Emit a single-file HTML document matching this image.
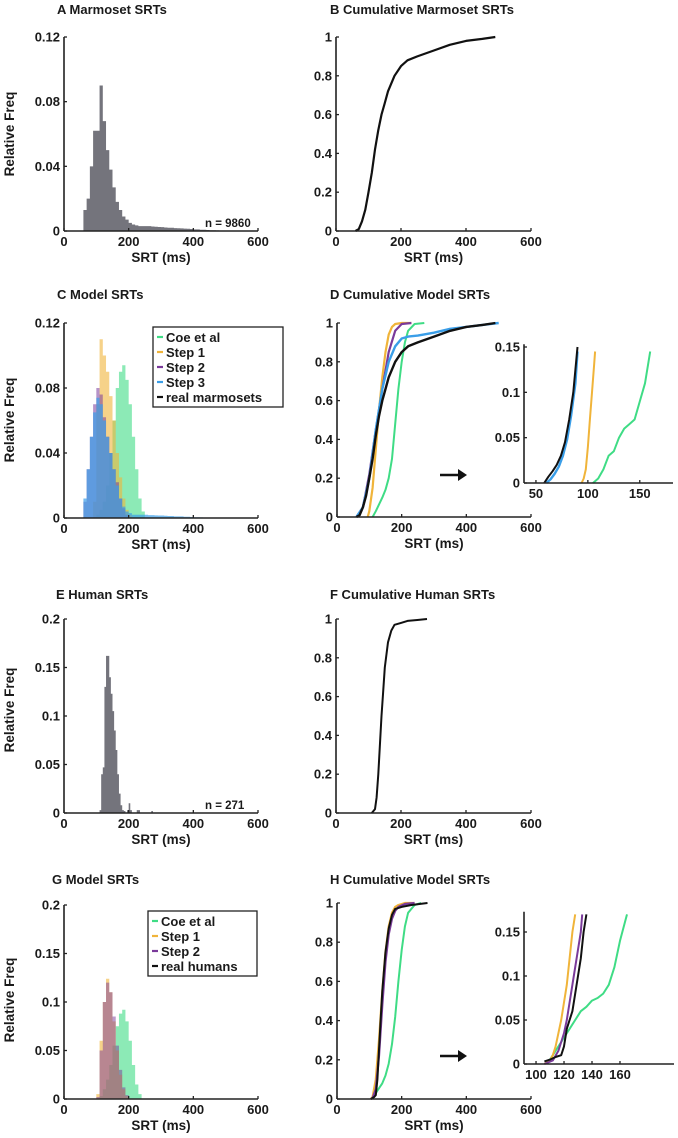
<!DOCTYPE html>
<html><head><meta charset="utf-8"><style>
html,body{margin:0;padding:0;background:#fff;}
svg{display:block;font-family:"Liberation Sans",Arial,sans-serif;font-weight:bold;}
</style></head><body>
<svg id="fig" width="678" height="1138" viewBox="0 0 678 1138" xmlns="http://www.w3.org/2000/svg"></svg>
<script>
// ---- data ----
const marmBinStart = 60;
const marmHist = [0.013,0.02,0.04,0.062,0.062,0.09,0.068,0.05,0.038,0.027,0.018,0.013,0.009,0.007,0.005,0.004,0.0035,0.003,0.003,0.003,0.003,0.0028,0.0026,0.0025,0.0024,0.0022,0.002,0.002,0.0018,0.0017,0.0016,0.0015,0.0014,0.0012,0.001,0.001,0.0008,0.0008,0.0006,0.0005,0.0005,0.0004,0.0003];
const marmCumX = [60,70,80,90,100,110,120,130,140,150,160,180,200,220,250,300,350,400,450,490];
const marmCumY = [0,0.01,0.05,0.11,0.2,0.3,0.42,0.52,0.6,0.66,0.72,0.8,0.85,0.88,0.9,0.93,0.96,0.98,0.99,1];

const step3Start = 60;
const step3Hist = [0.012,0.03,0.05,0.065,0.074,0.07,0.06,0.05,0.04,0.03,0.02,0.012,0.007,0.004,0.003,0.002,0.002,0.002,0.002,0.002,0.0018,0.0018,0.0016,0.0015,0.0015,0.0014,0.0012,0.0012,0.001,0.001,0.001,0.0008,0.0008,0.0006,0.0005,0.0005,0.0004,0.0003,0.0003,0.0002,0.0002,0.0002];
const step2Start = 60;
const step2Hist = [0.01,0.03,0.05,0.07,0.08,0.076,0.062,0.05,0.04,0.03,0.022,0.012,0.006,0.002];
const step1Start = 90;
const step1Hist = [0.01,0.07,0.11,0.1,0.09,0.075,0.06,0.04,0.025,0.012,0.005,0.002];
const coeStart = 100;
const coeHist = [0.002,0.005,0.01,0.02,0.04,0.06,0.08,0.09,0.094,0.085,0.07,0.05,0.03,0.012,0.004];

const dCumX_blue = [60,80,100,120,140,160,180,200,220,250,300,350,400,450,500];
const dCumY_blue = [0,0.05,0.2,0.45,0.66,0.8,0.88,0.92,0.93,0.935,0.95,0.97,0.98,0.99,1];
const dCumX_purple = [60,80,100,120,140,160,180,200,230];
const dCumY_purple = [0,0.05,0.22,0.45,0.66,0.85,0.96,0.995,1];
const dCumX_orange = [95,100,110,120,130,140,150,160,170,180,200,230];
const dCumY_orange = [0,0.03,0.15,0.35,0.55,0.72,0.85,0.94,0.98,0.995,1,1];
const dCumX_green = [110,120,140,150,160,170,180,190,200,210,220,240,270];
const dCumY_green = [0,0.03,0.1,0.14,0.2,0.3,0.48,0.66,0.8,0.9,0.96,0.995,1];

const insDX_black = [58,62,66,70,74,78,82,86,90];
const insDY_black = [0,0.007,0.013,0.02,0.03,0.045,0.07,0.1,0.15];
const insDX_blue = [60,64,68,72,76,80,84,88,90];
const insDY_blue = [0,0.004,0.01,0.018,0.03,0.048,0.075,0.11,0.145];
const insDX_orange = [94,96,98,100,102,104,106,107];
const insDY_orange = [0,0.005,0.015,0.04,0.07,0.1,0.13,0.145];
const insDX_green = [105,110,115,120,125,130,135,140,145,150,155,160];
const insDY_green = [0,0.005,0.015,0.03,0.035,0.05,0.06,0.065,0.07,0.09,0.11,0.145];

const humStart = 110;
const humHist = [0.003,0.04,0.047,0.13,0.162,0.162,0.14,0.123,0.105,0.085,0.065,0.04,0.02,0.008,0.003,0.002,0,0.003,0.01,0.003,0,0,0,0.003,0.003,0,0,0,0,0,0,0,0.002];
const humCumX = [110,120,125,130,135,140,145,150,160,170,180,200,220,250,280];
const humCumY = [0,0.02,0.08,0.2,0.35,0.5,0.62,0.75,0.88,0.94,0.97,0.98,0.99,0.995,1];

const gCoeStart = 110;
const gCoeHist = [0.003,0.01,0.02,0.035,0.055,0.075,0.088,0.092,0.08,0.06,0.035,0.015,0.005];
const gStep1Start = 100;
const gStep1Hist = [0.005,0.06,0.1,0.124,0.11,0.08,0.05,0.025,0.01,0.003];
const gStep2Start = 100;
const gStep2Hist = [0.002,0.05,0.1,0.12,0.11,0.085,0.055,0.03,0.012,0.004];

const hCumX_orange = [105,110,120,130,140,150,160,170,180,190,210,240];
const hCumY_orange = [0,0.01,0.1,0.3,0.55,0.75,0.88,0.95,0.98,0.99,1,1];
const hCumX_purple = [105,110,120,130,140,150,160,170,180,190,210,240];
const hCumY_purple = [0,0.005,0.05,0.22,0.48,0.7,0.84,0.92,0.96,0.98,0.995,1];
const hCumX_black = [105,115,120,125,130,135,140,150,160,170,180,200,230,280];
const hCumY_black = [0,0.01,0.02,0.1,0.25,0.4,0.55,0.75,0.87,0.94,0.97,0.98,0.99,1];
const hCumX_green = [108,120,140,150,160,170,180,190,200,210,220,240,260];
const hCumY_green = [0,0.03,0.08,0.12,0.18,0.28,0.42,0.6,0.76,0.88,0.95,0.99,1];

const insHX_orange = [106,110,112,114,116,118,120,122,124,126,128];
const insHY_orange = [0,0.004,0.01,0.02,0.035,0.05,0.07,0.09,0.12,0.15,0.17];
const insHX_purple = [106,112,116,118,120,122,124,126,128,130,132,133];
const insHY_purple = [0,0.004,0.015,0.025,0.035,0.05,0.07,0.09,0.11,0.13,0.15,0.17];
const insHX_black = [106,110,114,118,120,122,124,126,128,130,132,134,136];
const insHY_black = [0.003,0.005,0.008,0.01,0.02,0.04,0.05,0.06,0.08,0.1,0.12,0.15,0.17];
const insHX_green = [108,112,116,120,124,128,132,136,140,144,148,152,156,160,165];
const insHY_green = [0,0.01,0.02,0.03,0.04,0.05,0.06,0.065,0.072,0.075,0.08,0.09,0.11,0.14,0.17];

// ---- drawing ----
const NS = "http://www.w3.org/2000/svg";
const svg = document.getElementById('fig');
function el(tag, attrs, parent){ const e=document.createElementNS(NS,tag); for(const k in attrs) e.setAttribute(k,attrs[k]); (parent||svg).appendChild(e); return e; }
function txt(s, x, y, size, anchor, parent){ const t=el('text',{x:x,y:y,'font-size':size,'text-anchor':anchor||'start',fill:'#1a1a1a'},parent); t.textContent=s; return t; }

function axes(name, px0, px1, py0, py1, xmin, xmax, ymin, ymax, xticks, yticks, ytop, showX){
  const g = el('g',{});
  
  
  const sx = v => px0 + (v - xmin) / (xmax - xmin) * (px1 - px0);
  const sy = v => py0 - (v - ymin) / (ymax - ymin) * (py0 - py1);
  const top = ytop !== undefined ? sy(ytop) : py1;
  const marks = el('g',{},g);
  g.marks = marks;
  el('line',{x1:px0,y1:py0,x2:px1,y2:py0,stroke:'#222','stroke-width':1.6},g);
  el('line',{x1:px0,y1:py0,x2:px0,y2:top,stroke:'#222','stroke-width':1.6},g);
  xticks.forEach(v=>{ const x=sx(v); el('line',{x1:x,y1:py0,x2:x,y2:py0-3,stroke:'#222','stroke-width':1.3},g); txt(String(v),x,py0+15,13,'middle',g); });
  yticks.forEach(v=>{ const y=sy(v); el('line',{x1:px0,y1:y,x2:px0+3,y2:y,stroke:'#222','stroke-width':1.3},g); txt(String(v),px0-4,y+4.5,13,'end',g); });
  if(showX!==false) txt('SRT (ms)',(px0+px1)/2,py0+31,13.5,'middle',g);
  return {g, marks, sx, sy};
}
function hist(ax, start, width, vals, fill, op, name){
  const y0 = ax.sy(0);
  let d = 'M'+ax.sx(start).toFixed(2)+','+y0;
  vals.forEach((v,i)=>{ const x0=ax.sx(start+i*width), x1=ax.sx(start+(i+1)*width), y=ax.sy(v);
    d += ' L'+x0.toFixed(2)+','+y.toFixed(2)+' L'+x1.toFixed(2)+','+y.toFixed(2); });
  d += ' L'+ax.sx(start+vals.length*width).toFixed(2)+','+y0+' Z';
  const p = el('path',{d:d,fill:fill,'fill-opacity':op,stroke:'none'},ax.marks);
  
  
}
function curve(ax, xs, ys, color, w, name){
  const d = xs.map((x,i)=>(i?'L':'M')+ax.sx(x).toFixed(1)+','+ax.sy(ys[i]).toFixed(1)).join(' ');
  const p = el('path',{d:d,fill:'none',stroke:color,'stroke-width':w,'stroke-linejoin':'round'},ax.marks);
  
  
}
function title(s, x, y, name){ const t=txt(s,x,y,13,'start');   }
function ylabel(cx, cy, name){ const t=txt('Relative Freq',0,0,13.5,'middle'); t.setAttribute('transform','translate('+cx+','+cy+') rotate(-90)');   }
function legend(x,y,w,h,items,name){
  const g=el('g',{});  
  el('rect',{x:x,y:y,width:w,height:h,fill:'#fff',stroke:'#222','stroke-width':1.3},g);
  items.forEach((it,i)=>{ const yy=y+10+i*15; el('line',{x1:x+4,y1:yy,x2:x+10,y2:yy,stroke:it[1],'stroke-width':2.2},g); txt(it[0],x+13,yy+5,13,'start',g); });
}
function arrow(x,y,name){
  const g=el('g',{});  
  el('line',{x1:x,y1:y,x2:x+19,y2:y,stroke:'#111','stroke-width':2.5},g);
  el('polygon',{points:(x+18)+','+(y-6)+' '+(x+27)+','+y+' '+(x+18)+','+(y+6),fill:'#111'},g);
}

const GREEN='#3fdc85', ORANGE='#f0b43a', PURPLE='#7a3a9a', BLUE='#3a9ee8', GRAY='#74747c';

// A
title('A   Marmoset  SRTs',57,14,'title-a');
ylabel(14,134,'y-axis-title-a');
let a = axes('panel-a',64,258,231,37,0,600,0,0.12,[0,200,400,600],[0,0.04,0.08,0.12]);
hist(a,marmBinStart,10,marmHist,GRAY,1,'marmoset-histogram');
txt('n = 9860',205,227,11.5,'start',a.g);

// B
title('B   Cumulative Marmoset SRTs',330,14,'title-b');
let b = axes('panel-b',336,531,231,37,0,600,0,1,[0,200,400,600],[0,0.2,0.4,0.6,0.8,1]);
curve(b,marmCumX,marmCumY,'#111',2.2,'marmoset-cumulative');

// C
title('C  Model SRTs',57,299,'title-c');
ylabel(14,420,'y-axis-title-c');
let c = axes('panel-c',64,258,518,323,0,600,0,0.12,[0,200,400,600],[0,0.04,0.08,0.12]);
hist(c,coeStart,10,coeHist,GREEN,0.6,'coe-histogram');
hist(c,step1Start,10,step1Hist,ORANGE,0.6,'step1-histogram');
hist(c,step2Start,10,step2Hist,PURPLE,0.55,'step2-histogram');
hist(c,step3Start,10,step3Hist,BLUE,0.7,'step3-histogram');
legend(153,327,130,80,[['Coe et al',GREEN],['Step 1',ORANGE],['Step 2',PURPLE],['Step 3',BLUE],['real marmosets','#111']],'legend-c');

// D
title('D   Cumulative Model SRTs',330,299,'title-d');
let d = axes('panel-d',337,531,517,323,0,600,0,1,[0,200,400,600],[0,0.2,0.4,0.6,0.8,1]);
curve(d,dCumX_green,dCumY_green,GREEN,2,'coe-cumulative');
curve(d,dCumX_orange,dCumY_orange,ORANGE,2.2,'step1-cumulative');
curve(d,dCumX_purple,dCumY_purple,PURPLE,2.2,'step2-cumulative');
curve(d,dCumX_blue,dCumY_blue,BLUE,2.4,'step3-cumulative');
curve(d,marmCumX,marmCumY,'#111',2.4,'marmoset-cumulative-d');
arrow(440,475,'zoom-arrow-d');
let di = axes('inset-d',524,673,483,347,38.5,182,0,0.15,[50,100,150],[0,0.05,0.1,0.15],0.153,false);
curve(di,insDX_green,insDY_green,GREEN,2,'inset-coe');
curve(di,insDX_orange,insDY_orange,ORANGE,2,'inset-step1');
curve(di,insDX_blue,insDY_blue,BLUE,2.4,'inset-step3');
curve(di,insDX_black,insDY_black,'#111',2,'inset-marmoset');

// E
title('E  Human  SRTs',56,599,'title-e');
ylabel(14,710,'y-axis-title-e');
let e = axes('panel-e',64,258,813,619,0,600,0,0.2,[0,200,400,600],[0,0.05,0.1,0.15,0.2]);
hist(e,humStart,5,humHist,GRAY,1,'human-histogram');
txt('n = 271',205,809,11.5,'start',e.g);

// F
title('F   Cumulative Human SRTs',330,599,'title-f');
let f = axes('panel-f',336,531,813,619,0,600,0,1,[0,200,400,600],[0,0.2,0.4,0.6,0.8,1]);
curve(f,humCumX,humCumY,'#111',2,'human-cumulative');

// G
title('G  Model SRTs',52,884,'title-g');
ylabel(14,1000,'y-axis-title-g');
let gg = axes('panel-g',64,258,1099,905,0,600,0,0.2,[0,200,400,600],[0,0.05,0.1,0.15,0.2]);
hist(gg,gCoeStart,10,gCoeHist,GREEN,0.6,'coe-histogram-g');
hist(gg,gStep1Start,10,gStep1Hist,ORANGE,0.6,'step1-histogram-g');
hist(gg,gStep2Start,10,gStep2Hist,PURPLE,0.5,'step2-histogram-g');
legend(148,911,109,65,[['Coe et al',GREEN],['Step 1',ORANGE],['Step 2',PURPLE],['real humans','#111']],'legend-g');

// H
title('H   Cumulative Model SRTs',330,884,'title-h');
let h = axes('panel-h',337,531,1099,903,0,600,0,1,[0,200,400,600],[0,0.2,0.4,0.6,0.8,1]);
curve(h,hCumX_green,hCumY_green,GREEN,2,'coe-cumulative-h');
curve(h,hCumX_orange,hCumY_orange,ORANGE,2.2,'step1-cumulative-h');
curve(h,hCumX_purple,hCumY_purple,PURPLE,2.2,'step2-cumulative-h');
curve(h,hCumX_black,hCumY_black,'#111',2,'human-cumulative-h');
arrow(440,1056,'zoom-arrow-h');
let hi = axes('inset-h',524,674,1064,932,91.4,198.6,0,0.15,[100,120,140,160],[0,0.05,0.1,0.15],0.173,false);
curve(hi,insHX_green,insHY_green,GREEN,2,'inset-coe-h');
curve(hi,insHX_orange,insHY_orange,ORANGE,2,'inset-step1-h');
curve(hi,insHX_purple,insHY_purple,PURPLE,2,'inset-step2-h');
curve(hi,insHX_black,insHY_black,'#111',2,'inset-human-h');
</script>
</body></html>
